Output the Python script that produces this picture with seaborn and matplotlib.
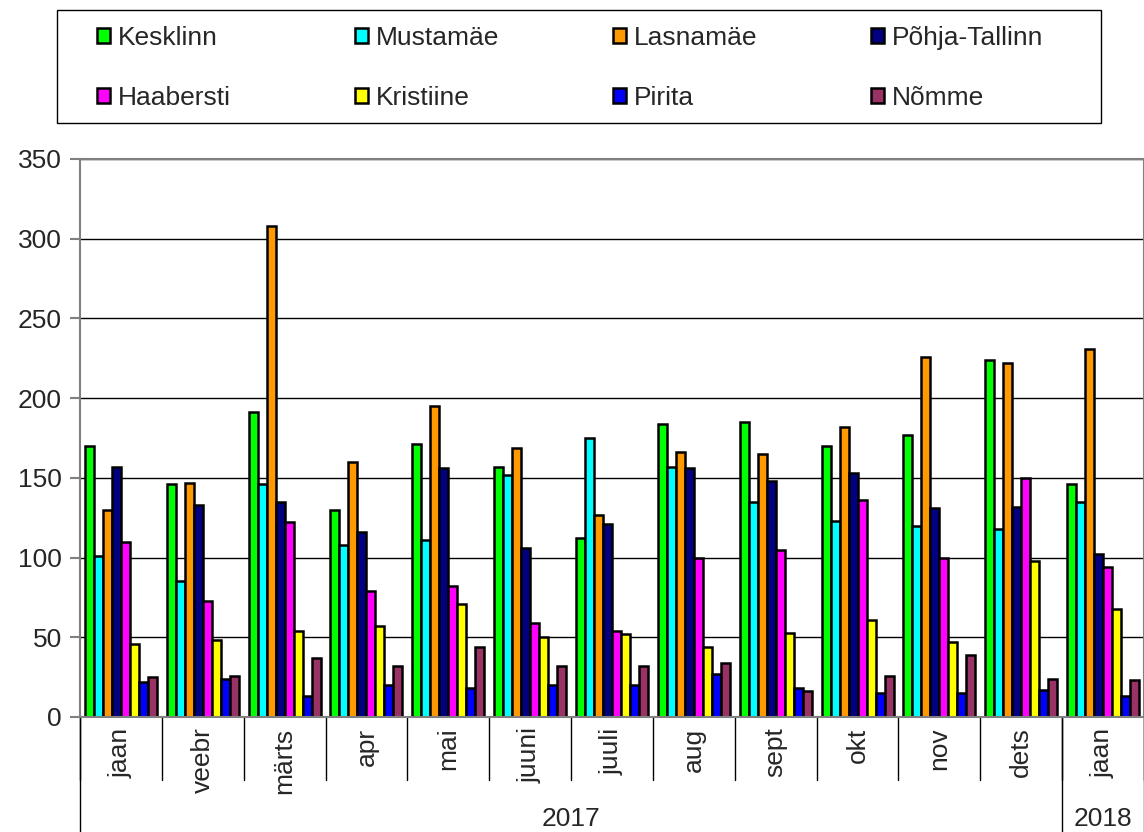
import pandas as pd
import matplotlib.pyplot as plt
import seaborn as sns
from matplotlib.patches import Rectangle

# Kuude nimed ja aastad
months = ["jaan", "veebr", "märts", "apr", "mai", "juuni", "juuli",
          "aug", "sept", "okt", "nov", "dets", "jaan"]
years = ["2017"] * 12 + ["2018"]
periods = [f"{y}-{i:02d}" for i, y in zip(list(range(1, 13)) + [1], years)]

districts = ["Kesklinn", "Mustamäe", "Lasnamäe", "Põhja-Tallinn",
             "Haabersti", "Kristiine", "Pirita", "Nõmme"]
colors = ["#00FF00", "#00FFFF", "#FF9900", "#000080",
          "#FF00FF", "#FFFF00", "#0000FF", "#993366"]

# Väärtused linnaosade kaupa (loetud graafikult)
kesklinn = [170, 146, 191, 130, 171, 157, 112, 184, 185, 170, 177, 224, 146]
mustamae = [101, 85, 146, 108, 111, 152, 175, 157, 135, 123, 120, 118, 135]
lasnamae = [130, 147, 308, 160, 195, 169, 127, 166, 165, 182, 226, 222, 231]
pohja_tallinn = [157, 133, 135, 116, 156, 106, 121, 156, 148, 153, 131, 132, 102]
haabersti = [110, 73, 122, 79, 82, 59, 54, 100, 105, 136, 100, 150, 94]
kristiine = [46, 48, 54, 57, 71, 50, 52, 44, 53, 61, 47, 98, 68]
pirita = [22, 24, 13, 20, 18, 20, 20, 27, 18, 15, 15, 17, 13]
nomme = [25, 26, 37, 32, 44, 32, 32, 34, 16, 26, 39, 24, 23]

series = [kesklinn, mustamae, lasnamae, pohja_tallinn,
          haabersti, kristiine, pirita, nomme]

rows = []
for name, vals in zip(districts, series):
    for p, v in zip(periods, vals):
        rows.append({"period": p, "district": name, "value": v})
df = pd.DataFrame(rows)

sns.set_style("white")
plt.rcParams["font.family"] = ["Liberation Sans", "DejaVu Sans"]
fs = 19

fig = plt.figure(figsize=(11.44, 8.32), dpi=100)
ax = fig.add_axes([80 / 1144, 1 - 717 / 832, 1064 / 1144, 558 / 832])

sns.barplot(data=df, x="period", y="value", hue="district", order=periods,
            hue_order=districts, palette=colors, width=0.88,
            edgecolor="black", linewidth=1.8, saturation=1, ax=ax)

ax.set_ylim(0, 350)
ax.set_xlim(-0.5, len(periods) - 0.5)
ax.set_yticks(range(0, 351, 50))
ax.yaxis.grid(True, color="black", linewidth=1)
ax.set_axisbelow(True)
for s in ax.spines.values():
    s.set_color("#808080")
    s.set_linewidth(1.5)
ax.tick_params(axis="y", left=True, length=7, width=1.5, color="#808080",
               labelsize=fs, pad=6)
ax.tick_params(axis="x", bottom=False, labelsize=fs, pad=4)
ax.set_xticks(range(len(periods)))
ax.set_xticklabels(months, rotation=90)
ax.set_xlabel("")
ax.set_ylabel("")

# Kategooriate eraldusjooned telje all
tr = ax.get_xaxis_transform()
for i in range(len(periods) + 1):
    ax.plot([i - 0.5, i - 0.5], [0, -0.113], transform=tr, color="black",
            linewidth=1, clip_on=False)
for x in [-0.5, 11.5, 12.5]:
    ax.plot([x, x], [0, -0.26], transform=tr, color="black",
            linewidth=1, clip_on=False)
ax.text(5.5, -0.182, "2017", transform=tr, ha="center", va="center", fontsize=fs)
ax.text(12, -0.182, "2018", transform=tr, ha="center", va="center", fontsize=fs)

# Legend: 4 veergu, read vasakult paremale
handles, labels = ax.get_legend_handles_labels()
ax.get_legend().remove()
fig.patches.append(Rectangle((57 / 1144, 1 - 123 / 832), 1044 / 1144, 113 / 832,
                             transform=fig.transFigure, fill=False,
                             edgecolor="black", linewidth=1))
col_x = [97, 355, 613, 871]
for c in range(4):
    idx = [c, c + 4]
    fig.legend([handles[i] for i in idx], [labels[i] for i in idx],
               loc="upper left", bbox_to_anchor=(col_x[c] / 1144, 1 - 26 / 832),
               fontsize=fs, frameon=False, handlelength=0.5, handleheight=0.5,
               handletextpad=0.3, labelspacing=1.35, borderpad=0,
               borderaxespad=0)

plt.savefig("out.png", dpi=100, facecolor="white")
